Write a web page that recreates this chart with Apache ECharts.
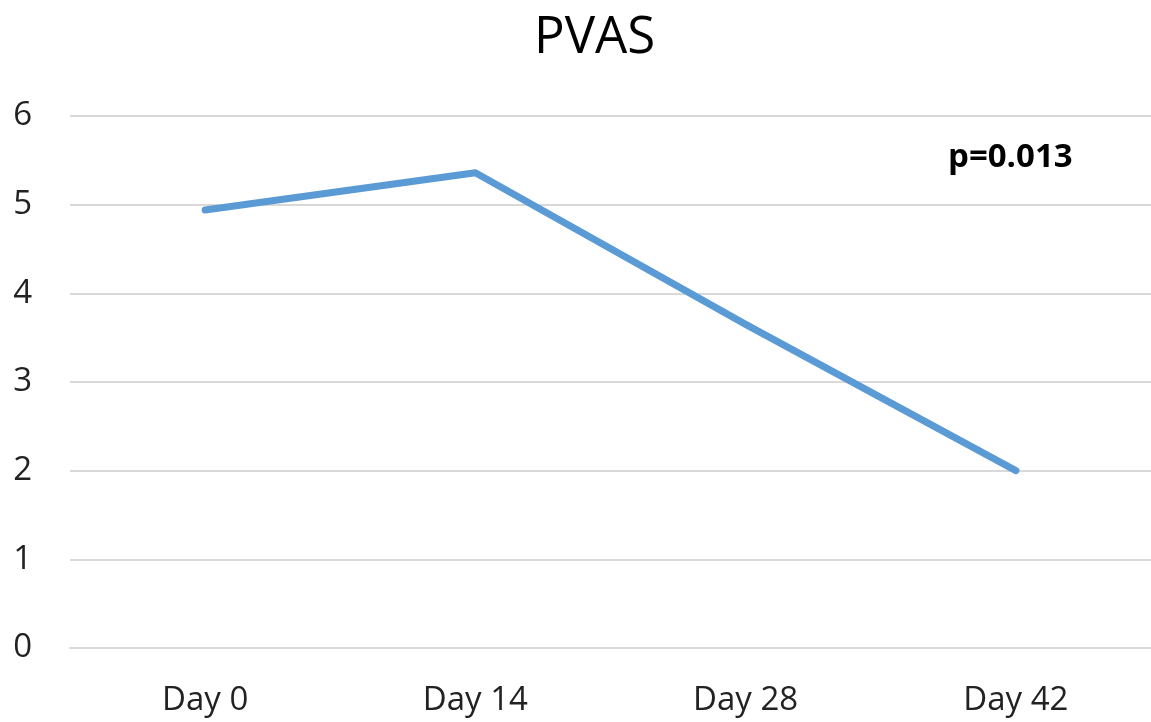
<!DOCTYPE html>
<html>
<head>
<meta charset="utf-8">
<script src="https://cdn.jsdelivr.net/npm/echarts@6/dist/echarts.min.js"></script>
<style>
  html, body { margin: 0; padding: 0; background: #fff; }
  #chart { width: 1151px; height: 722px; }
</style>
</head>
<body>
<div id="chart"></div>
<script>
const days = ['Day 0', 'Day 14', 'Day 28', 'Day 42']
const pvas = [4.94, 5.36, 3.65, 2.0]
const yTicks = { min: 0, max: 6, interval: 1 }
const pValue = 'p=0.013'

const font = '"Open Sans", "Noto Sans", sans-serif'
const chart = echarts.init(document.getElementById('chart'))

chart.setOption({
  animation: false,
  title: {
    text: 'PVAS',
    left: 529,
    top: 8,
    textStyle: { fontFamily: font, fontSize: 51, fontWeight: 'normal', color: '#000' }
  },
  graphic: [{
    type: 'text',
    left: 948,
    top: 141,
    style: { text: pValue, font: 'bold 33px ' + font, fill: '#000' }
  }],
  grid: { left: 70, top: 116, width: 1088, height: 532 },
  xAxis: {
    type: 'category',
    data: days,
    boundaryGap: true,
    axisLine: { lineStyle: { color: '#d9d9d9', width: 2 } },
    axisTick: { show: false },
    axisLabel: { fontFamily: font, fontSize: 33, color: '#222', margin: 36 }
  },
  yAxis: {
    type: 'value',
    min: yTicks.min,
    max: yTicks.max,
    interval: yTicks.interval,
    axisLine: { show: false },
    axisTick: { show: false },
    splitLine: { lineStyle: { color: '#d9d9d9', width: 2 } },
    axisLabel: { fontFamily: font, fontSize: 33, color: '#222', margin: 38 }
  },
  series: [{
    type: 'line',
    data: pvas,
    symbol: 'none',
    lineStyle: { color: '#5b9bd5', width: 7, cap: 'round', join: 'round' }
  }]
})
</script>
</body>
</html>
